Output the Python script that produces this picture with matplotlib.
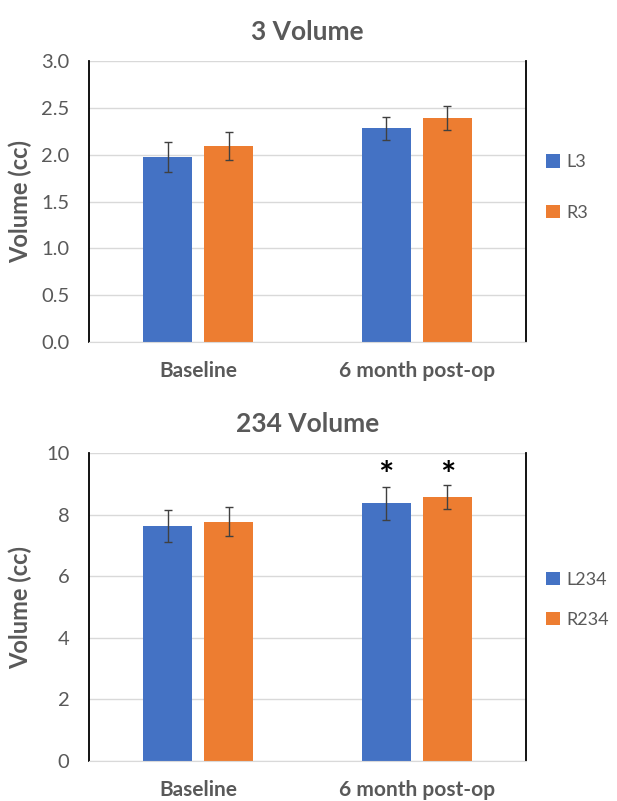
import matplotlib
matplotlib.use('Agg')
import matplotlib.pyplot as plt
import numpy as np

plt.rcParams['font.family'] = ['Lato', 'DejaVu Sans']

# data
categories = ['Baseline', '6 month post-op']
l3 = [1.98, 2.28]
l3_err = [0.16, 0.125]
r3 = [2.09, 2.39]
r3_err = [0.15, 0.13]
l234 = [7.63, 8.37]
l234_err = [0.52, 0.53]
r234 = [7.77, 8.57]
r234_err = [0.47, 0.40]
star_groups = [1]  # significant categories in 234 chart

blue = '#4472C4'
orange = '#ED7D31'
grey_txt = '#595959'
grid_c = '#D9D9D9'

fig = plt.figure(figsize=(6.17, 8.01), dpi=100)
ax1 = fig.add_axes([0.1442, 0.573, 0.7083, 0.3508])
ax2 = fig.add_axes([0.1442, 0.0499, 0.7083, 0.3845])

x = np.arange(len(categories))
w = 0.224
off = 0.14


def draw(ax, left, lerr, right, rerr, labels, ymax, step, fmt, title, leg_y, spacing):
    ax.bar(x - off, left, w, color=blue, label=labels[0], zorder=2)
    ax.bar(x + off, right, w, color=orange, label=labels[1], zorder=2)
    ax.errorbar(x - off, left, yerr=lerr, fmt='none', ecolor='#404040',
                elinewidth=1, capsize=3, capthick=1, zorder=3)
    ax.errorbar(x + off, right, yerr=rerr, fmt='none', ecolor='#404040',
                elinewidth=1, capsize=3, capthick=1, zorder=3)
    ax.set_xlim(-0.5, 1.5)
    ax.set_ylim(0, ymax)
    ticks = np.arange(0, ymax + step / 2, step)
    ax.set_yticks(ticks)
    ax.set_yticklabels([fmt.format(t) for t in ticks])
    ax.set_xticks(x)
    ax.set_xticklabels(categories, fontweight='bold')
    ax.tick_params(axis='y', length=0, pad=14, labelsize=14.5, labelcolor=grey_txt)
    ax.tick_params(axis='x', length=0, pad=14, labelsize=15, labelcolor=grey_txt)
    ax.yaxis.grid(True, color=grid_c, linewidth=1, zorder=0)
    ax.set_axisbelow(True)
    ax.spines['top'].set_visible(False)
    ax.spines['bottom'].set_color(grid_c)
    ax.spines['left'].set_color('black')
    ax.spines['right'].set_color('black')
    ax.spines['left'].set_linewidth(1.3)
    ax.spines['right'].set_linewidth(1.3)
    ax.set_ylabel('Volume (cc)', fontsize=17, fontweight='bold', color=grey_txt)
    ax.yaxis.set_label_coords(-0.13, 0.5)
    ax.set_title(title, fontsize=19, fontweight='bold', color=grey_txt, pad=15)
    ax.legend(loc='center left', bbox_to_anchor=(1.03, leg_y), frameon=False,
              handlelength=0.75, handleheight=0.75, handletextpad=0.35,
              labelspacing=spacing, fontsize=13, labelcolor=grey_txt,
              borderaxespad=0)


draw(ax1, l3, l3_err, r3, r3_err, ['L3', 'R3'], 3.0, 0.5, '{:.1f}',
     '3 Volume', 0.55, 1.9)
draw(ax2, l234, l234_err, r234, r234_err, ['L234', 'R234'], 10, 2, '{:.0f}',
     '234 Volume', 0.523, 1.35)

for g in star_groups:
    for xs in (x[g] - off, x[g] + off):
        ax2.text(xs, 9.25, '*', ha='center', va='center', fontsize=26,
                 fontweight='bold', color='black')

fig.savefig('out.png', dpi=100)
